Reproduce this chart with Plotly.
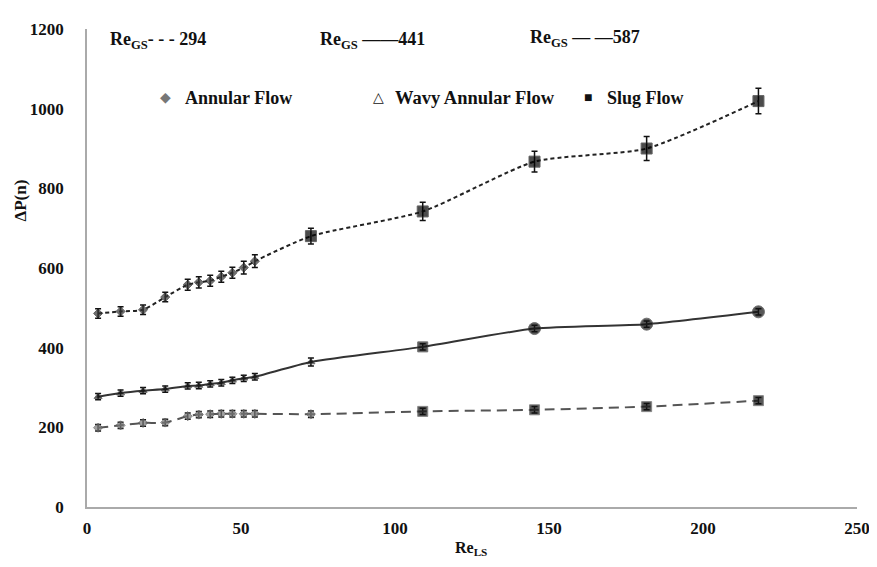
import plotly.graph_objects as go

re_ls = [3.6, 10.9, 18.2, 25.4, 32.7, 36.3, 40.0, 43.6, 47.2, 50.9, 54.5, 72.7, 109.0, 145.3, 181.7, 218.0]
dp_294 = [486, 491, 495, 527, 558, 564, 568, 578, 588, 601, 617, 680, 742, 867, 900, 1019]
dp_441 = [277, 286, 292, 296, 304, 305, 309, 312, 318, 323, 327, 364, 402, 448, 459, 490]
dp_587 = [199, 205, 211, 212, 228, 232, 233, 234, 234, 234, 234, 233, 240, 244, 252, 267]
err_294 = [12, 12, 12, 12, 14, 14, 14, 14, 14, 16, 16, 20, 23, 26, 30, 32]
err_441 = [8, 8, 8, 8, 8, 8, 8, 8, 8, 8, 8, 10, 8, 8, 8, 8]
err_587 = [8, 8, 8, 8, 8, 8, 8, 8, 8, 8, 8, 8, 8, 8, 8, 8]
sym_294 = ["diamond"] * 11 + ["square"] * 5
sym_441 = ["triangle-up"] * 12 + ["square"] + ["circle"] * 3
sym_587 = ["diamond"] * 12 + ["square"] * 4
col_294 = ["#333333"] * 11 + ["#000000"] * 5
col_441 = ["#111111"] * 16
col_587 = ["#777777"] * 12 + ["#111111"] * 4
size_294 = [7] * 11 + [11] * 5
size_441 = [7] * 12 + [10] + [12] * 3
size_587 = [7] * 12 + [10] * 4
x_ticks = [0, 50, 100, 150, 200, 250]
y_ticks = [0, 200, 400, 600, 800, 1000, 1200]
series_labels = ["294", "441", "587"]
regime_labels = ["Annular Flow", "Wavy Annular Flow", "Slug Flow"]

FONT = "Liberation Serif"
FW, FH = 877, 567
PL, PR, PT, PB = 87, 857, 22, 507  # plot area in reference pixels
L, R, T, B = 79, 28, 14, 68        # page body margin of 8px shifts figure
W, H = PR - PL, PB - PT

fig = go.Figure()

def add_series(y, err, sym, col, size, dash, lcol):
    fig.add_trace(go.Scatter(
        x=re_ls, y=y, mode="lines+markers",
        line=dict(color=lcol, width=2, dash=dash, shape="spline", smoothing=0.6),
        marker=dict(symbol=sym, color=col, size=size),
        error_y=dict(type="data", array=err, visible=True, color="#111111", thickness=1.5, width=3),
        showlegend=False,
    ))

add_series(dp_294, err_294, sym_294, col_294, size_294, "4px,3px", "#222222")
add_series(dp_441, err_441, sym_441, col_441, size_441, "solid", "#333333")
add_series(dp_587, err_587, sym_587, col_587, size_587, "10px,6px", "#555555")

ann = [
    dict(x=108, y=34, text="<b>Re<sub>GS</sub>- - - " + series_labels[0] + "</b>", size=18),
    dict(x=318, y=34, text="<b>Re<sub>GS</sub> ——" + series_labels[1] + "</b>", size=18),
    dict(x=528, y=32, text="<b>Re<sub>GS</sub> — —" + series_labels[2] + "</b>", size=18),
    dict(x=158, y=92, text="<span style='color:#777777'>◆</span>", size=14),
    dict(x=183, y=92, text="<b>" + regime_labels[0] + "</b>", size=18),
    dict(x=371, y=92, text="△", size=14),
    dict(x=393, y=92, text="<b>" + regime_labels[1] + "</b>", size=18.5),
    dict(x=582, y=92, text="■", size=14),
    dict(x=605, y=92, text="<b>" + regime_labels[2] + "</b>", size=18),
]
annotations = []
for a in ann:
    annotations.append(dict(
        x=(a["x"] - PL) / W, y=1 - (a["y"] - PT) / H, xref="paper", yref="paper",
        text=a["text"], showarrow=False, xanchor="left", yanchor="middle",
        font=dict(family=FONT, size=a["size"], color="#111111"),
    ))
annotations.append(dict(
    x=(20 - PL) / W, y=1 - (196 - PT) / H, xref="paper", yref="paper",
    text="<b>ΔP(n)</b>", textangle=-90, showarrow=False,
    xanchor="center", yanchor="middle", font=dict(family=FONT, size=17, color="#111111"),
))
annotations.append(dict(
    x=(471 - PL) / W, y=1 - (549 - PT) / H, xref="paper", yref="paper",
    text="<b>Re<sub>LS</sub></b>", showarrow=False,
    xanchor="center", yanchor="middle", font=dict(family=FONT, size=16, color="#111111"),
))

fig.update_layout(
    width=FW, height=FH,
    margin=dict(l=L, r=R, t=T, b=B),
    paper_bgcolor="white", plot_bgcolor="white",
    annotations=annotations,
    xaxis=dict(range=[0, 250], tickvals=x_ticks, showgrid=False, zeroline=False,
               showline=True, linecolor="#aaaaaa", linewidth=1.5, ticks="",
               tickfont=dict(family=FONT, size=17, color="#111111", weight="bold"),
               ticklabelstandoff=5),
    yaxis=dict(range=[0, 1200], tickvals=y_ticks, showgrid=False, zeroline=False,
               showline=True, linecolor="#aaaaaa", linewidth=1.5, ticks="",
               tickfont=dict(family=FONT, size=17, color="#111111", weight="bold"),
               ticklabelstandoff=18),
)

fig.write_html("out.html")
